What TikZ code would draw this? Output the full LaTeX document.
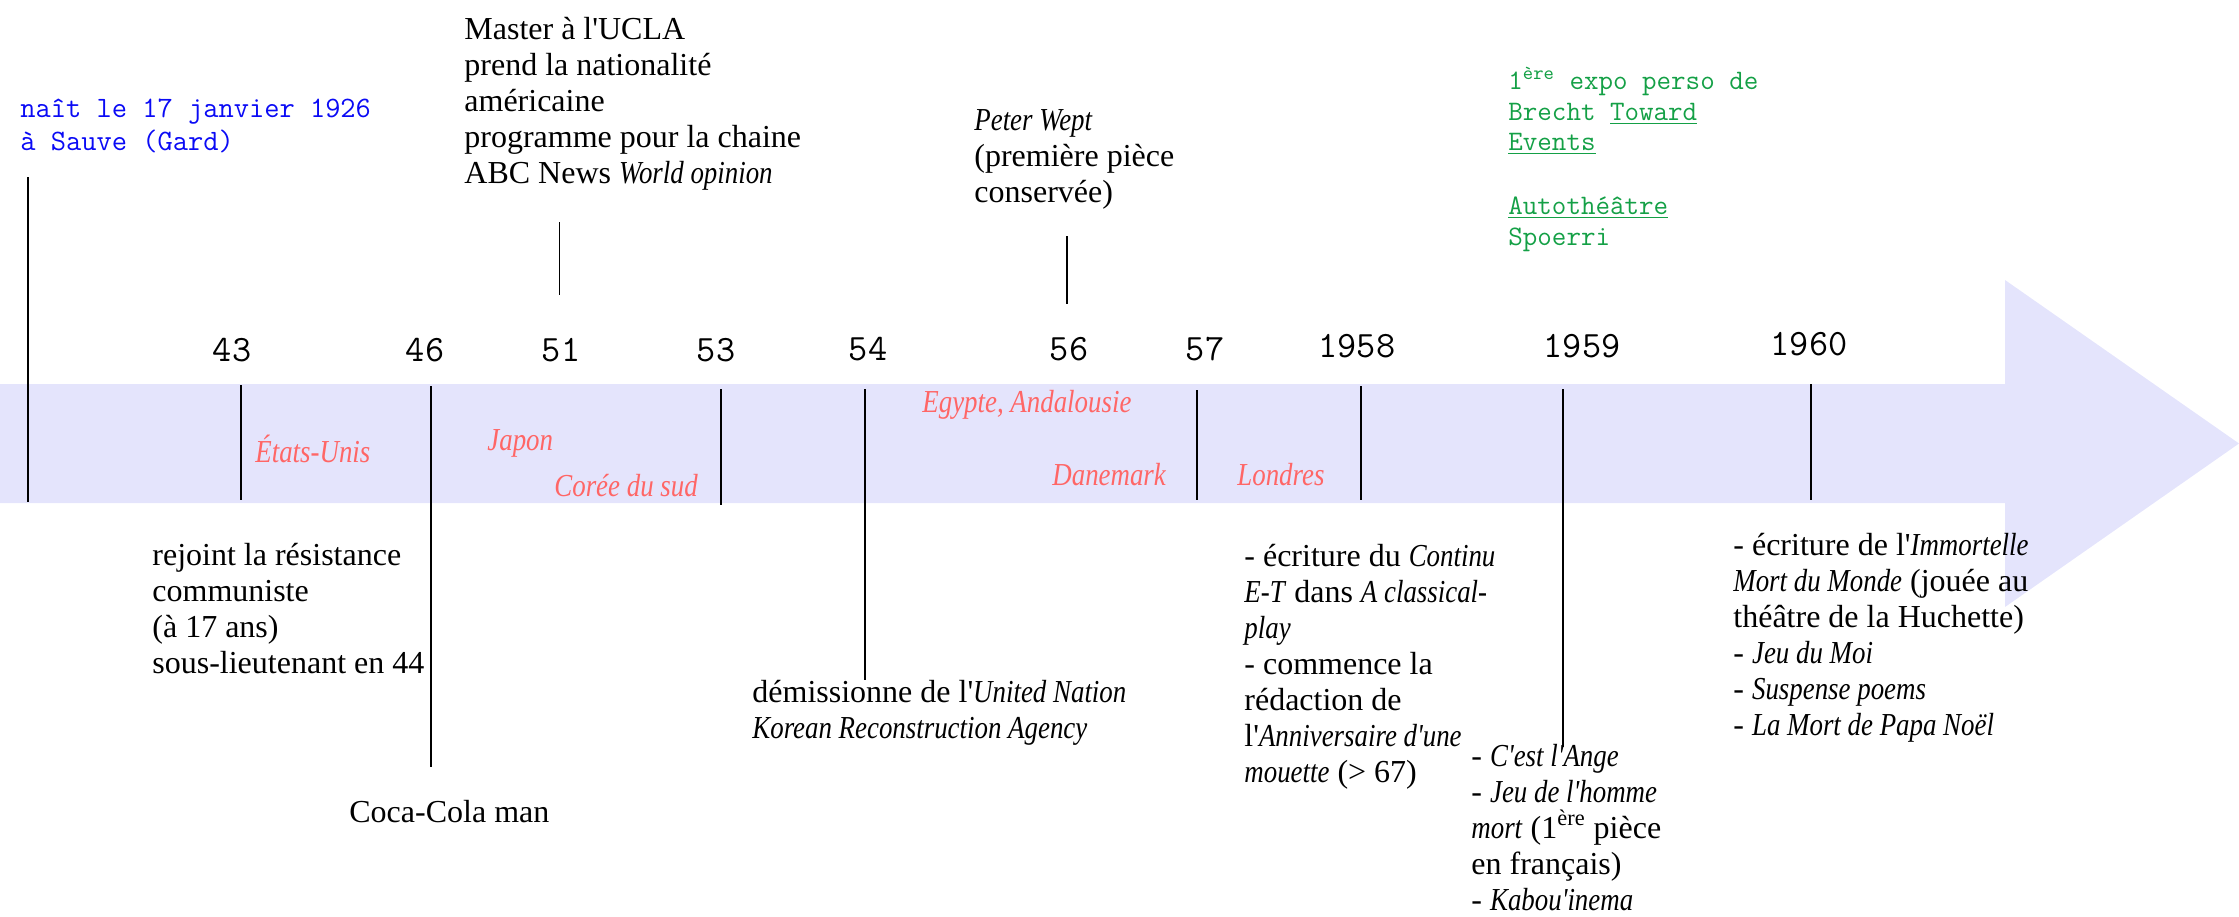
\documentclass[tikz,border=0pt]{standalone}
\usepackage{fontspec}
\newfontfamily\gar{Liberation Serif}[ItalicFeatures={FakeStretch=0.84}]
\definecolor{bandcol}{RGB}{228,228,252}
\definecolor{pinkc}{RGB}{255,102,102}
\definecolor{bluec}{RGB}{10,10,245}
\definecolor{greenc}{RGB}{20,160,70}
\newcommand\twbold{\ttfamily\addfontfeature{FakeBold=0.6}}
\tikzset{
  body/.style={font=\gar\fontsize{16}{18}\selectfont, anchor=base west, inner sep=0pt, align=left},
  place/.style={font=\gar\itshape\fontsize{16}{18}\selectfont, text=pinkc, anchor=base west, inner sep=0pt},
  year/.style={font=\twbold\fontsize{18.6}{20}\selectfont, anchor=base, inner sep=0pt},
  bluetxt/.style={font=\twbold\fontsize{14.8}{16.5}\selectfont, text=bluec, anchor=base west, inner sep=0pt, align=left},
  greentxt/.style={font=\twbold\fontsize{14.1}{15.3}\selectfont, text=greenc, anchor=base west, inner sep=0pt, align=left},
  tick/.style={line width=0.9pt, black},
  thintick/.style={line width=0.5pt, black}
}
\begin{document}
\begin{tikzpicture}[x=0.5pt,y=-0.5pt]
\useasboundingbox (0,0) rectangle (2239,916);
% timeline arrow
\fill[bandcol] (0,384) -- (2005,384) -- (2005,280) -- (2239,443.5) -- (2005,607) -- (2005,503) -- (0,503) -- cycle;

% tick coordinates
\coordinate (b0) at (28,177);   \coordinate (b1) at (28,502);
\coordinate (y43a) at (241,385);  \coordinate (y43b) at (241,500);
\coordinate (y46a) at (431,386);  \coordinate (y46b) at (431,767);
\coordinate (y51a) at (559,222);  \coordinate (y51b) at (559,295);
\coordinate (y53a) at (721,389);  \coordinate (y53b) at (721,505);
\coordinate (y54a) at (865,389);  \coordinate (y54b) at (865,680);
\coordinate (y56a) at (1067,236); \coordinate (y56b) at (1067,304);
\coordinate (y57a) at (1197,390); \coordinate (y57b) at (1197,500);
\coordinate (y58a) at (1361,386); \coordinate (y58b) at (1361,500);
\coordinate (y59a) at (1563,389); \coordinate (y59b) at (1563,747);
\coordinate (y60a) at (1811,384); \coordinate (y60b) at (1811,500);

\draw[tick] (b0) -- (b1);
\draw[tick] (y43a) -- (y43b);
\draw[tick] (y46a) -- (y46b);
\draw[thintick] (y51a) -- (y51b);
\draw[tick] (y53a) -- (y53b);
\draw[tick] (y54a) -- (y54b);
\draw[tick] (y56a) -- (y56b);
\draw[tick] (y57a) -- (y57b);
\draw[tick] (y58a) -- (y58b);
\draw[tick] (y59a) -- (y59b);
\draw[tick] (y60a) -- (y60b);

% years
\node[year] (l43) at (232,361) {43};
\node[year] (l46) at (425,361) {46};
\node[year] (l51) at (561,361) {51};
\node[year] (l53) at (716,361) {53};
\node[year] (l54) at (868,360) {54};
\node[year] (l56) at (1069,360) {56};
\node[year] (l57) at (1205,360) {57};
\node[year] (l58) at (1357,357) {1958};
\node[year] (l59) at (1582,357) {1959};
\node[year] (l60) at (1809,355) {1960};

% places
\node[place] (pUS) at (255,462) {États-Unis};
\node[place] (pJP) at (487,450) {Japon};
\node[place] (pKR) at (554,496) {Corée du sud};
\node[place] (pEG) at (922,412) {Egypte, Andalousie};
\node[place] (pDK) at (1052,485) {Danemark};
\node[place] (pLD) at (1237,485) {Londres};

% texts (anchored at the baseline of their last line)
\node[bluetxt] (birth) at (20,150) {naît le 17 janvier 1926\\à Sauve (Gard)};
\node[greentxt] (expo) at (1508,245) {1\textsuperscript{ère} expo perso de\\Brecht \underline{Toward}\\\underline{Events}\\[16.5pt]\underline{Autothéâtre}\\Spoerri};
\node[body] (ucla) at (464,183) {Master à l'UCLA\\prend la nationalité\\américaine\\programme pour la chaine\\ABC News \textit{World opinion}};
\node[body] (wept) at (974,202) {\textit{Peter Wept}\\(première pièce\\conservée)};
\node[body] (resist) at (152,673) {rejoint la résistance\\communiste\\(à 17 ans)\\sous-lieutenant en 44};
\node[body] (coca) at (349,822) {Coca-Cola man};
\node[body] (unkra) at (752,738) {démissionne de l'\textit{United Nation}\\\textit{Korean Reconstruction Agency}};
\node[body] (continu) at (1244,782) {- écriture du \textit{Continu}\\\textit{E-T} dans \textit{A classical-}\\\textit{play}\\- commence la\\rédaction de\\l'\textit{Anniversaire d'une}\\\textit{mouette} (> 67)};
\node[body] (ange) at (1471,910) {- \textit{C'est l'Ange}\\- \textit{Jeu de l'homme}\\\textit{mort} (1\textsuperscript{ère} pièce\\en français)\\- \textit{Kabou'inema}};
\node[body] (immort) at (1733,735) {- écriture de l'\textit{Immortelle}\\\textit{Mort du Monde} (jouée au\\théâtre de la Huchette)\\- \textit{Jeu du Moi}\\- \textit{Suspense poems}\\- \textit{La Mort de Papa Noël}};
\end{tikzpicture}
\end{document}
